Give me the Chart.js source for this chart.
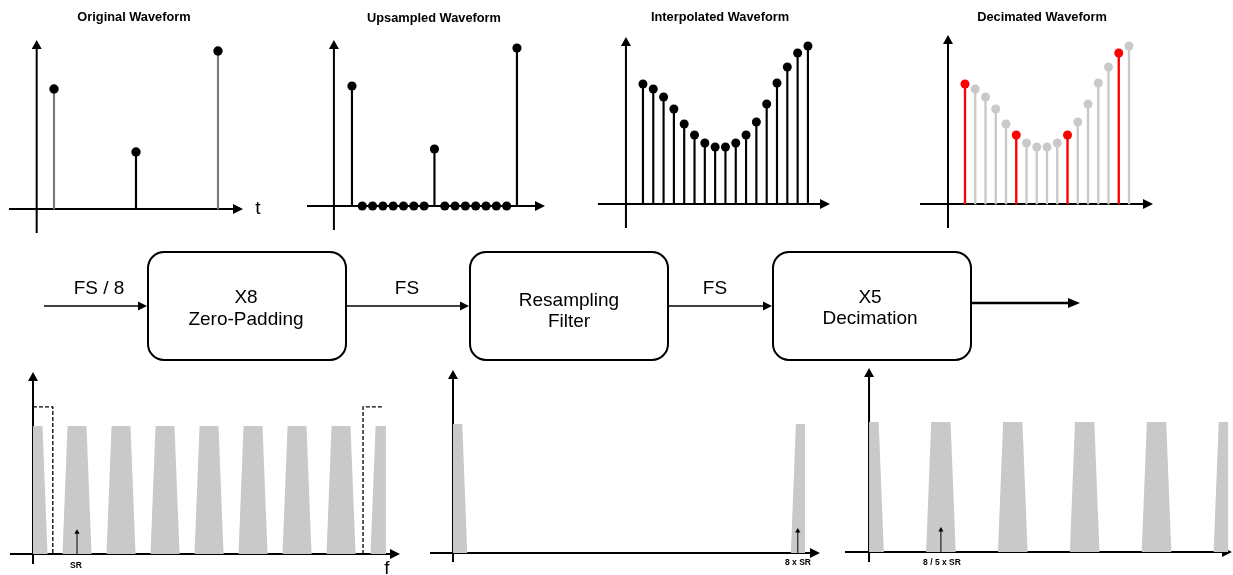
<!DOCTYPE html>
<html lang="en">
<head>
<meta charset="UTF-8">
<title>Sample rate conversion X8 / X5</title>
<script src="https://cdn.jsdelivr.net/npm/chart.js"></script>
<style>
  body { margin: 0; background: #fff; font-family: "Liberation Sans", Arial, sans-serif; }
  #page { position: relative; width: 1233px; height: 575px; overflow: hidden; }
  canvas { position: absolute; }
  .lbl { position: absolute; transform: translate(-50%, -50%); line-height: 1; white-space: nowrap; color: #000; }
  .title { font-weight: bold; font-size: 12.8px; }
  .big { font-size: 19px; }
  .small { font-weight: bold; font-size: 8.5px; }
  .box { position: absolute; box-sizing: border-box; border: 2px solid #000; border-radius: 17px; }
  svg { position: absolute; left: 0; top: 0; }
</style>
</head>
<body>
<div id="page">
  <!-- time domain -->
  <canvas id="orig" width="234" height="193" style="left:9px;top:40px"></canvas>
  <canvas id="up" width="238" height="190" style="left:307px;top:40px"></canvas>
  <canvas id="interp" width="232" height="191" style="left:598px;top:37px"></canvas>
  <canvas id="dec" width="233" height="193" style="left:920px;top:35px"></canvas>

  <!-- spectra -->
  <canvas id="specUp" width="390" height="192" style="left:10px;top:372px"></canvas>
  <canvas id="specFilt" width="390" height="192" style="left:430px;top:370px"></canvas>
  <canvas id="specDec" width="387" height="194" style="left:845px;top:368px"></canvas>

  <!-- block diagram -->
  <div class="box" style="left:147px;top:251px;width:200px;height:110px"></div>
  <div class="box" style="left:469px;top:251px;width:200px;height:110px"></div>
  <div class="box" style="left:772px;top:251px;width:200px;height:110px"></div>
  <svg width="1233" height="575">
    <g stroke="#000" stroke-width="1.7">
      <line x1="44" y1="306" x2="140" y2="306"/>
      <line x1="347" y1="306" x2="462" y2="306"/>
      <line x1="669" y1="306" x2="765" y2="306"/>
      <line x1="972" y1="303" x2="1070" y2="303" stroke-width="2.5"/>
    </g>
    <g fill="#000">
      <polygon points="147,306 138,301.5 138,310.5"/>
      <polygon points="469,306 460,301.5 460,310.5"/>
      <polygon points="772,306 763,301.5 763,310.5"/>
      <polygon points="1080,303 1068,298 1068,308"/>
    </g>
  </svg>

  <div class="lbl title" style="left:134px;top:17px">Original Waveform</div>
  <div class="lbl title" style="left:434px;top:18px">Upsampled Waveform</div>
  <div class="lbl title" style="left:720px;top:17px">Interpolated Waveform</div>
  <div class="lbl title" style="left:1042px;top:17px">Decimated Waveform</div>
  <div class="lbl big" style="left:258px;top:207px">t</div>
  <div class="lbl big" style="left:387px;top:567px">f</div>

  <div class="lbl big" style="left:99px;top:287px">FS / 8</div>
  <div class="lbl big" style="left:246px;top:296px">X8</div>
  <div class="lbl big" style="left:246px;top:318px">Zero-Padding</div>
  <div class="lbl big" style="left:407px;top:287px">FS</div>
  <div class="lbl big" style="left:569px;top:299px">Resampling</div>
  <div class="lbl big" style="left:569px;top:320px">Filter</div>
  <div class="lbl big" style="left:715px;top:287px">FS</div>
  <div class="lbl big" style="left:870px;top:296px">X5</div>
  <div class="lbl big" style="left:870px;top:317px">Decimation</div>

  <div class="lbl small" style="left:76px;top:565px">SR</div>
  <div class="lbl small" style="left:798px;top:562px">8 x SR</div>
  <div class="lbl small" style="left:942px;top:562px">8 / 5 x SR</div>
</div>

<script>
// samples, in steps of the upsampled rate
const steps = [0, 1, 2, 3, 4, 5, 6, 7, 8, 9, 10, 11, 12, 13, 14, 15, 16];
const originalSteps = [0, 8, 16];
const originalValues = [1.20, 0.57, 1.58];
const upsampledValues = [1.20, 0, 0, 0, 0, 0, 0, 0, 0.57, 0, 0, 0, 0, 0, 0, 0, 1.58];
const interpolatedValues = [1.20, 1.15, 1.07, 0.95, 0.80, 0.69, 0.61, 0.57, 0.57, 0.61, 0.69, 0.82, 1.00, 1.21, 1.37, 1.51, 1.58];
const keptSteps = [0, 5, 10, 15];

// spectra, frequencies in multiples of SR
const imagesUpsampled = [0, 1, 2, 3, 4, 5, 6, 7, 8];
const imagesFiltered = [0, 8.17];
const imagesDecimated = [0, 1.6, 3.2, 4.8, 6.4, 8];
const filterLow = [[0, 1.15], [0.45, 1.15], [0.45, 0]];
const filterHigh = [[7.5, 0], [7.5, 1.15], [7.95, 1.15]];
const srMarks = [1, 8, 1.6];

const TOP_HALF = 0.215;
const FOOT_HALF = 0.33;

// axes with arrow heads, drawn under the marks
const arrowAxes = {
  id: 'arrowAxes',
  beforeDatasetsDraw(chart, args, opts) {
    const { ctx, chartArea: a, scales: { x, y } } = chart;
    const ox = x.getPixelForValue(opts.originX || 0);
    const oy = y.getPixelForValue(0);
    ctx.save();
    ctx.strokeStyle = '#000';
    ctx.fillStyle = '#000';
    ctx.lineWidth = 2;
    ctx.beginPath();
    ctx.moveTo(a.left, oy); ctx.lineTo(a.right - 8, oy);
    ctx.moveTo(ox, a.bottom); ctx.lineTo(ox, a.top + 8);
    ctx.stroke();
    ctx.beginPath();
    ctx.moveTo(a.right, oy); ctx.lineTo(a.right - 10, oy - 5); ctx.lineTo(a.right - 10, oy + 5);
    ctx.closePath();
    ctx.moveTo(ox, a.top); ctx.lineTo(ox - 5, a.top + 9); ctx.lineTo(ox + 5, a.top + 9);
    ctx.closePath();
    ctx.fill();
    ctx.restore();
  }
};

function baseOptions(xr, yr, originX) {
  return {
    responsive: false,
    animation: false,
    layout: { padding: 0, autoPadding: false },
    plugins: { legend: { display: false }, tooltip: { enabled: false }, arrowAxes: { originX } },
    scales: {
      x: { type: 'linear', display: false, offset: false, min: xr[0], max: xr[1] },
      y: { type: 'linear', display: false, offset: false, min: yr[0], max: yr[1] }
    }
  };
}

function stemChart(id, xs, ys, o) {
  const pts = xs.map((x, i) => ({ x, y: ys[i] }));
  new Chart(document.getElementById(id), {
    type: 'scatter',
    data: {
      datasets: [
        { type: 'bar', data: pts, backgroundColor: o.stemColors, barThickness: o.stemWidth, order: 2 },
        { type: 'scatter', data: pts, pointRadius: o.radius, pointBackgroundColor: o.dotColors,
          pointBorderWidth: 0, order: 1 }
      ]
    },
    options: baseOptions(o.x, o.y, o.originX),
    plugins: [arrowAxes]
  });
}

const keptColor = steps.map(s => keptSteps.includes(s) ? '#ff0000' : '#c9c9c9');

stemChart('orig', originalSteps, originalValues, {
  x: [-4.39, 18.44], y: [-0.24, 1.69], originX: -1.69,
  stemColors: ['#7a7a7a', '#000', '#7a7a7a'], stemWidth: 1.5, radius: 4.7, dotColors: '#000'
});
stemChart('up', steps, upsampledValues, {
  x: [-4.36, 18.72], y: [-0.24, 1.66], originX: -1.75,
  stemColors: '#000', stemWidth: 1.5, radius: 4.6, dotColors: '#000'
});
stemChart('interp', steps, interpolatedValues, {
  x: [-4.36, 18.14], y: [-0.24, 1.67], originX: -1.65,
  stemColors: '#000', stemWidth: 1.5, radius: 4.5, dotColors: '#000'
});
stemChart('dec', steps, interpolatedValues, {
  x: [-4.39, 18.34], y: [-0.24, 1.69], originX: -1.66,
  stemColors: keptColor, stemWidth: 1.7, radius: 4.5, dotColors: keptColor
});

// spectral images as trapezoids, cut at 0 and at the right end of the shown band
function imagePolygon(centers, end) {
  const pts = [];
  centers.forEach(c => {
    [[-FOOT_HALF, 0], [-TOP_HALF, 1], [TOP_HALF, 1], [FOOT_HALF, 0]].forEach(([dx, y]) => {
      pts.push({ x: Math.min(end, Math.max(0, c + dx)), y });
    });
  });
  return pts;
}

function spectrumChart(id, centers, mark, o) {
  const datasets = [
    { type: 'line', data: imagePolygon(centers, o.end), fill: 'origin', backgroundColor: '#c9c9c9',
      borderWidth: 0, pointRadius: 0, tension: 0, order: 3 },
    { type: 'line', data: [{ x: mark, y: 0 }, { x: mark, y: 0.17 }], borderColor: '#000', borderWidth: 1,
      pointRadius: [0, 3], pointStyle: 'triangle', pointBackgroundColor: '#000', pointBorderWidth: 0, order: 1 }
  ];
  (o.filters || []).forEach(f => datasets.push({
    type: 'line', data: f.map(([x, y]) => ({ x, y })), borderColor: '#000', borderWidth: 1.3,
    borderDash: [4, 2], fill: false, pointRadius: 0, tension: 0, order: 2
  }));
  new Chart(document.getElementById(id), {
    type: 'scatter',
    data: { datasets },
    options: baseOptions(o.x, o.y, 0),
    plugins: [arrowAxes]
  });
}

spectrumChart('specUp', imagesUpsampled, srMarks[0], {
  x: [-0.523, 8.34], y: [-0.078, 1.422], end: 8.02, filters: [filterLow, filterHigh]
});
spectrumChart('specFilt', imagesFiltered, srMarks[1], {
  x: [-0.534, 8.515], y: [-0.07, 1.419], end: 8.17
});
spectrumChart('specDec', imagesDecimated, srMarks[2], {
  x: [-0.535, 8.08], y: [-0.077, 1.415], end: 8
});
</script>
</body>
</html>
